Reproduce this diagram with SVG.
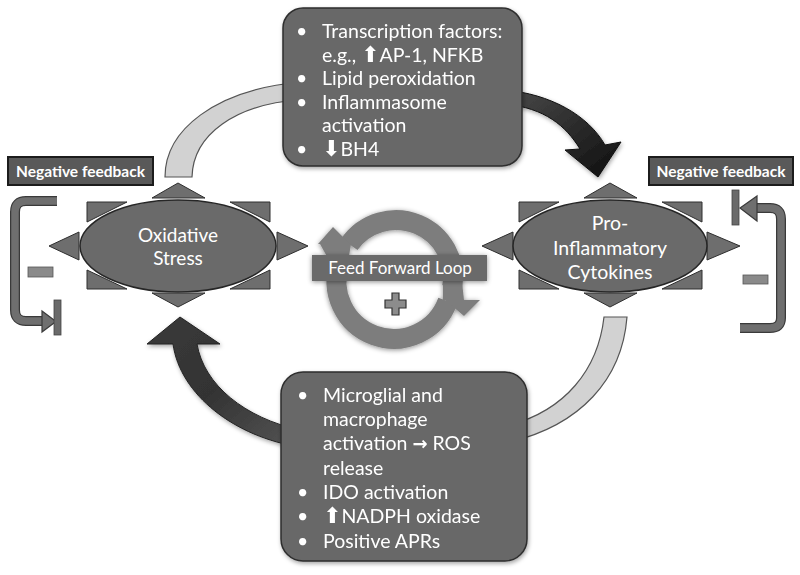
<svg xmlns="http://www.w3.org/2000/svg" width="800" height="575" viewBox="0 0 800 575">
<defs>
<style>
.txt{font-family:Lato,"Open Sans","Liberation Sans",sans-serif;fill:#ffffff;}
.box{fill:#676767;stroke:#2e2e2e;stroke-width:1.5;}
.ell{fill:#6a6a6a;stroke:#262626;stroke-width:1.5;}
.tri{fill:#6e6e6e;stroke:#2e2e2e;stroke-width:1;}
.nf{fill:#595959;stroke:#1c1c1c;stroke-width:2;}
.nft{font-family:Lato,"Liberation Sans",sans-serif;font-weight:bold;font-size:15.5px;fill:#ffffff;}
.fb-out{fill:none;stroke:#3a3a3a;stroke-width:10;}
.fb-in{fill:none;stroke:#6f6f6f;stroke-width:7.5;}
.light{fill:#d2d2d2;stroke:#555;stroke-width:1.2;}
.arr{font-family:"DejaVu Sans",sans-serif;}
</style>
<linearGradient id="gTR" x1="0" y1="0" x2="1" y2="1">
<stop offset="0" stop-color="#4a4a4a"/><stop offset="1" stop-color="#0e0e0e"/>
</linearGradient>
<linearGradient id="gBL" x1="1" y1="1" x2="0" y2="0">
<stop offset="0" stop-color="#555"/><stop offset="0.5" stop-color="#333"/><stop offset="1" stop-color="#3a3a3a"/>
</linearGradient>
<filter id="sh" x="-20%" y="-20%" width="140%" height="140%">
<feDropShadow dx="1" dy="2" stdDeviation="2" flood-color="#000" flood-opacity="0.35"/>
</filter>
<filter id="sh2" x="-20%" y="-20%" width="140%" height="140%">
<feDropShadow dx="0" dy="1" stdDeviation="2.5" flood-color="#000" flood-opacity="0.45"/>
</filter>
</defs>
<rect width="800" height="575" fill="#ffffff"/>

<g id="connectors">
  <path class="light" d="M165,177 C165,130 215,90 300,82 L300,100 C235,104 193,135 192,177 Z"/>
  <path fill="url(#gTR)" stroke="#111" stroke-width="1" filter="url(#sh)" d="M505,90 C550,94 588,115 605,145 L621,142 L598,177 L565,150 L580,149 C566,126 545,108 505,104 Z"/>
  <path fill="url(#gBL)" stroke="#222" stroke-width="1" filter="url(#sh)" d="M300,447 C235,437 180,395 173,344 L147,344 L180,317 L220,344 L197,344 C204,385 245,418 300,430 Z"/>
  <path class="light" d="M627,317 C622,380 580,425 510,442 L510,425 C565,410 598,370 604,317 Z"/>
  <g id="fb-left">
    <path class="fb-out" d="M57,201 H26 Q15,201 15,212 V310 Q15,321 26,321 H43"/>
    <path class="fb-in" d="M57,201 H26 Q15,201 15,212 V310 Q15,321 26,321 H43"/>
    <polygon points="42,311 56,321.5 42,332" fill="#6f6f6f" stroke="#3a3a3a" stroke-width="1.2"/>
    <rect x="54" y="300" width="7" height="35" fill="#6a6a6a" stroke="#444" stroke-width="0.8"/>
    <rect x="28" y="267" width="25" height="10" fill="#8a8a8a" stroke="#555" stroke-width="0.8"/>
  </g>
  <g id="fb-right">
    <path class="fb-out" d="M756,208 H770 Q781,208 781,219 V318 Q781,328 770,328 H740"/>
    <path class="fb-in" d="M756,208 H770 Q781,208 781,219 V318 Q781,328 770,328 H740"/>
    <polygon points="757,196 740,208 757,221" fill="#6f6f6f" stroke="#3a3a3a" stroke-width="1.2"/>
    <rect x="732" y="190" width="7" height="35" fill="#6a6a6a" stroke="#444" stroke-width="0.8"/>
    <rect x="743" y="275" width="25" height="9" fill="#8a8a8a" stroke="#555" stroke-width="0.8"/>
  </g>
</g>

<g id="top-box" filter="url(#sh)">
  <rect class="box" x="283" y="8" width="239" height="158" rx="20"/>
  <g class="txt" font-size="19.5">
    <text x="296" y="38">•</text><text x="322" y="38">Transcription factors:</text>
    <text x="322" y="62">e.g., <tspan class="arr" font-size="22">⬆</tspan>AP-1, NFKB</text>
    <text x="296" y="85">•</text><text x="322" y="85">Lipid peroxidation</text>
    <text x="296" y="109">•</text><text x="322" y="109">Inflammasome</text>
    <text x="322" y="132">activation</text>
    <text x="296" y="156">•</text><text x="322" y="156"><tspan class="arr" font-size="22">⬇</tspan>BH4</text>
  </g>
</g>

<g id="bottom-box" filter="url(#sh)">
  <rect class="box" x="281" y="372" width="246" height="189" rx="22"/>
  <g class="txt" font-size="19.5">
    <text x="297" y="402">•</text><text x="323" y="402">Microglial and</text>
    <text x="323" y="426">macrophage</text>
    <text x="323" y="450">activation <tspan class="arr" font-size="18" font-weight="bold">→</tspan> ROS</text>
    <text x="323" y="475">release</text>
    <text x="297" y="499">•</text><text x="323" y="499">IDO activation</text>
    <text x="297" y="523">•</text><text x="323" y="523"><tspan class="arr" font-size="22">⬆</tspan>NADPH oxidase</text>
    <text x="297" y="548">•</text><text x="323" y="548">Positive APRs</text>
  </g>
</g>

<g id="neg-left">
  <rect class="nf" x="8" y="157" width="145" height="28"/>
  <text class="nft" x="80.5" y="177" text-anchor="middle">Negative feedback</text>
</g>
<g id="neg-right">
  <rect class="nf" x="649" y="157" width="144" height="28"/>
  <text class="nft" x="721" y="177" text-anchor="middle">Negative feedback</text>
</g>

<g id="oxidative-stress">
  <polygon class="tri" points="152,198 178,183 205,198"/>
  <polygon class="tri" points="152,293 178,307 205,293"/>
  <polygon class="tri" points="79,232 49,246 79,260"/>
  <polygon class="tri" points="277,232 308,246 277,260"/>
  <polygon class="tri" points="87,202 127,202 87,222"/>
  <polygon class="tri" points="270,202 230,202 270,222"/>
  <polygon class="tri" points="87,270 87,289 127,289"/>
  <polygon class="tri" points="270,270 270,289 230,289"/>
  <ellipse class="ell" cx="178" cy="246" rx="98" ry="46"/>
  <g class="txt" font-size="19" text-anchor="middle">
    <text x="178" y="242">Oxidative</text>
    <text x="178" y="265">Stress</text>
  </g>
</g>

<g id="cytokines">
  <polygon class="tri" points="584,198 610,183 637,198"/>
  <polygon class="tri" points="584,293 610,307 637,293"/>
  <polygon class="tri" points="513,232 482,246 513,260"/>
  <polygon class="tri" points="707,232 740,246 707,260"/>
  <polygon class="tri" points="519,202 559,202 519,222"/>
  <polygon class="tri" points="702,202 662,202 702,222"/>
  <polygon class="tri" points="519,270 519,289 559,289"/>
  <polygon class="tri" points="702,270 702,289 662,289"/>
  <ellipse class="ell" cx="610" cy="246" rx="97" ry="46"/>
  <g class="txt" font-size="19.5" text-anchor="middle">
    <text x="610" y="230">Pro-</text>
    <text x="610" y="255">Inflammatory</text>
    <text x="610" y="279">Cytokines</text>
  </g>
</g>

<g id="feed-forward">
  <g filter="url(#sh2)" fill="#7d7d7d">
    <path d="M349.3,244.3 A57,57 0 0 1 452.1,286.9" fill="none" stroke="#7d7d7d" stroke-width="20"/>
    <path d="M447.7,301.1 A57,57 0 1 1 340,262" fill="none" stroke="#7d7d7d" stroke-width="20"/>
    <polygon points="330,262 348,262 351,244 320,244"/>
    <polygon points="318,244 350,244 333,227"/>
    <polygon points="443,282 462,282 464,300 443,300"/>
    <polygon points="445,300 480,300 464,316"/>
  </g>
  <rect x="312" y="255" width="175" height="26" fill="#6b6b6b" filter="url(#sh2)"/>
  <text class="txt" x="400" y="274" font-size="17" text-anchor="middle" fill="#f2f2f2">Feed Forward Loop</text>
  <path d="M392,293 h7 v7 h7 v8 h-7 v7 h-7 v-7 h-7 v-8 h7 z" fill="#8c8c8c" stroke="#333" stroke-width="1.2"/>
</g>
</svg>
